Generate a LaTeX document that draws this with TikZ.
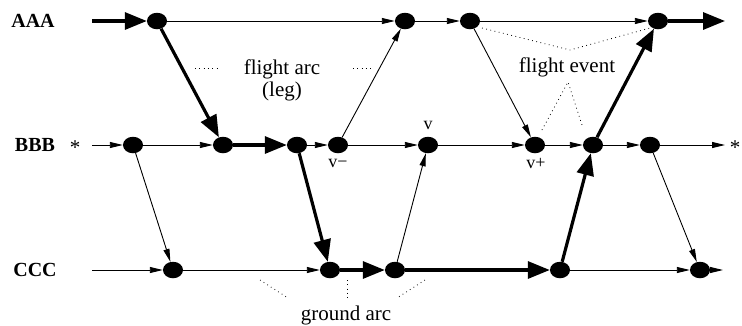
\documentclass[tikz,border=0pt]{standalone}
\usepackage{fontspec}
\setmainfont{Liberation Serif}
\usetikzlibrary{arrows.meta,shapes.geometric}

\begin{document}
\begin{tikzpicture}[x=1pt,y=-1pt,
    event/.style={ellipse,fill=black,inner sep=0pt,minimum width=20pt,minimum height=16.5pt},
    arc/.style={line width=0.9pt,-{Triangle[length=13pt,width=6pt]}},
    heavy/.style={line width=3.2pt,-{Triangle[length=22pt,width=17pt]}},
    note/.style={line width=0.8pt,dash pattern=on 0.8pt off 3.5pt},
    rowname/.style={font=\bfseries\fontsize{20}{22}\selectfont},
    txt/.style={font=\fontsize{21}{24}\selectfont},
    vtxt/.style={font=\fontsize{18}{20}\selectfont}
  ]
  \useasboundingbox (0,0) rectangle (742,325);

  % row names
  \node[rowname] (aaa) at (33,21) {AAA};
  \node[rowname] (bbb) at (35,145) {BBB};
  \node[rowname] (ccc) at (35,270) {CCC};
  \node[txt] (stl) at (75,148) {*};
  \node[txt] (str) at (735,148) {*};

  % ends of the rows
  \coordinate (as) at (92,21);
  \coordinate (ae) at (725,21);
  \coordinate (bs) at (92,145);
  \coordinate (be) at (725,145);
  \coordinate (cs) at (92,270);
  \coordinate (ce) at (723,270);

  % events
  \node[event] (a1) at (157,21) {};
  \node[event] (a2) at (405,21) {};
  \node[event] (a3) at (470,21) {};
  \node[event] (a4) at (658,21) {};

  \node[event] (b1) at (133,145) {};
  \node[event] (b2) at (223,145) {};
  \node[event] (b3) at (297,145) {};
  \node[event] (b4) at (338,145) {};
  \node[event] (b5) at (428,145) {};
  \node[event] (b6) at (535,145) {};
  \node[event] (b7) at (593,145) {};
  \node[event] (b8) at (650,145) {};

  \node[event] (c1) at (173,270) {};
  \node[event] (c2) at (330,270) {};
  \node[event] (c3) at (395,270) {};
  \node[event] (c4) at (560,270) {};
  \node[event] (c5) at (700,270) {};

  % ground arcs
  \draw[heavy] (as) -- (a1);
  \draw[arc] (a1) -- (a2);
  \draw[arc] (a2) -- (a3);
  \draw[arc] (a3) -- (a4);
  \draw[heavy] (a4) -- (ae);

  \draw[arc] (bs) -- (b1);
  \draw[arc] (b1) -- (b2);
  \draw[heavy] (b2) -- (b3);
  \draw[arc] (b3) -- (b4);
  \draw[arc] (b4) -- (b5);
  \draw[arc] (b5) -- (b6);
  \draw[arc] (b6) -- (b7);
  \draw[arc] (b7) -- (b8);
  \draw[arc] (b8) -- (be);

  \draw[arc] (cs) -- (c1);
  \draw[arc] (c1) -- (c2);
  \draw[heavy] (c2) -- (c3);
  \draw[heavy] (c3) -- (c4);
  \draw[arc] (c4) -- (c5);
  \draw[arc] (c5) -- (ce);

  % flight arcs
  \draw[heavy] (a1) -- (b2);
  \draw[arc] (b4) -- (a2);
  \draw[arc] (a3) -- (b6);
  \draw[heavy] (b7) -- (a4);
  \draw[arc] (b1) -- (c1);
  \draw[heavy] (b3) -- (c2);
  \draw[arc] (c3) -- (b5);
  \draw[heavy] (c4) -- (b7);
  \draw[arc] (b8) -- (c5);

  % labels
  \node[vtxt] (vm) at (338,163) {v−};
  \node[vtxt] (v) at (428,125) {v};
  \node[vtxt] (vp) at (536,163) {v+};

  \node[txt,align=center] (fa) at (282,80) {flight arc\\[-2pt](leg)};
  \draw[note] (195,68) -- (218,68);
  \draw[note] (353,68) -- (373,68);

  \node[txt] (fe) at (567,67) {flight event};
  \draw[note] (482,28) -- (570,50) -- (650,28);
  \draw[note] (542,130) -- (568,82) -- (583,128);

  \node[txt] (ga) at (346,315) {ground arc};
  \draw[note] (260,280) -- (288,298);
  \draw[note] (347,280) -- (347,298);
  \draw[note] (425,280) -- (397,298);
\end{tikzpicture}
\end{document}
